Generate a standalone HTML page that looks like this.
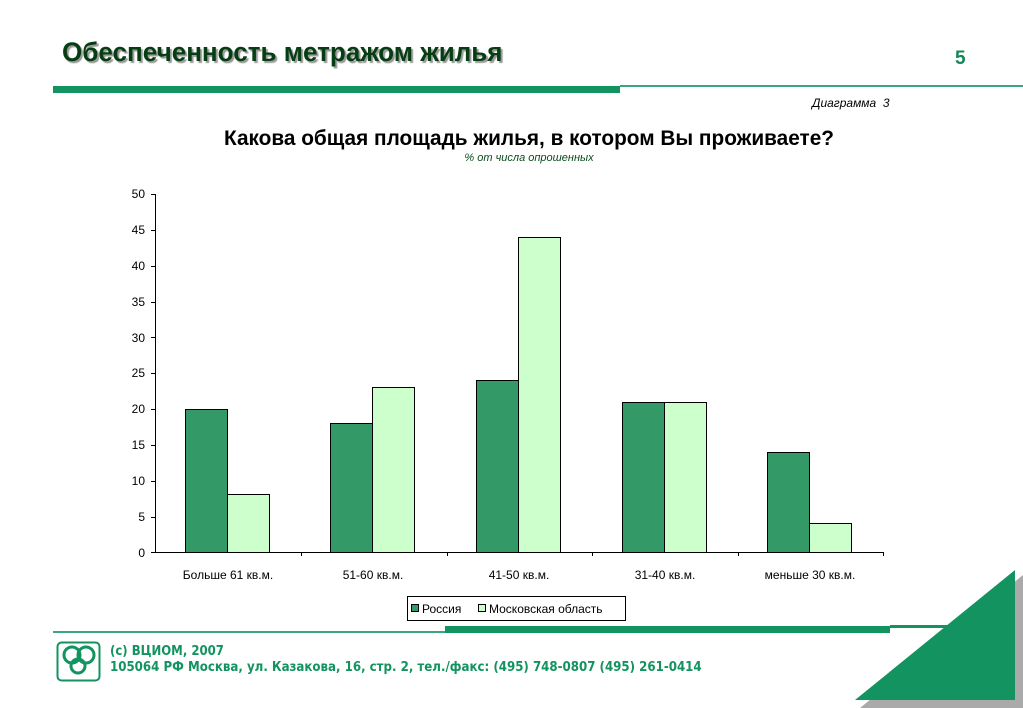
<!DOCTYPE html>
<html><head><meta charset="utf-8"><style>
body{margin:0;width:1023px;height:708px;background:#fff;overflow:hidden;position:relative;font-family:"Liberation Sans",sans-serif}
.a{position:absolute;white-space:nowrap}
</style></head><body>
<div class="a" style="left:62px;top:37px;font-size:27px;font-weight:bold;color:#063d12;text-shadow:2px 2px 1px #999;transform:scaleX(0.965);transform-origin:left">Обеспеченность метражом жилья</div>
<div class="a" style="left:955px;top:48px;font-size:19px;font-weight:bold;color:#12875a">5</div>
<div class="a" style="left:53px;top:86px;width:567px;height:7px;background:#12935f"></div>
<div class="a" style="left:620px;top:85px;width:403px;height:2px;background:#3aa67c"></div>
<div class="a" style="left:812px;top:96px;font-size:12px;font-style:italic">Диаграмма &nbsp;3</div>
<div class="a" style="left:0;width:1058px;text-align:center;top:127px;font-size:20.8px;font-weight:bold">Какова общая площадь жилья, в котором Вы проживаете?</div>
<div class="a" style="left:0;width:1058px;text-align:center;top:152px;font-size:11px;font-style:italic;color:#0b4a1a">% от числа опрошенных</div>
<svg class="a" style="left:0;top:0" width="1023" height="708">
<g font-family="Liberation Sans" font-size="12" text-anchor="end">
<text x="145" y="198">50</text><text x="145" y="234">45</text><text x="145" y="270">40</text><text x="145" y="306">35</text><text x="145" y="342">30</text><text x="145" y="377">25</text><text x="145" y="413">20</text><text x="145" y="449">15</text><text x="145" y="485">10</text><text x="145" y="521">5</text><text x="145" y="557">0</text>
</g>
<g stroke="#000" stroke-width="1">
<line x1="155.5" y1="194" x2="155.5" y2="552"/><line x1="155" y1="552.5" x2="884" y2="552.5"/>
<path d="M151 194.5h4M151 230.5h4M151 266.5h4M151 302.5h4M151 337.5h4M151 373.5h4M151 409.5h4M151 445.5h4M151 481.5h4M151 517.5h4M151 552.5h4"/>
<path d="M301.5 552v4M447.5 552v4M592.5 552v4M738.5 552v4M883.5 552v4"/>
</g>
<g stroke="#000" stroke-width="1">
<rect x="185.5" y="409.5" width="42" height="143" fill="#339966"/>
<rect x="227.5" y="494.5" width="42" height="58" fill="#ccffcc"/>
<rect x="330.5" y="423.5" width="42" height="129" fill="#339966"/>
<rect x="372.5" y="387.5" width="42" height="165" fill="#ccffcc"/>
<rect x="476.5" y="380.5" width="42" height="172" fill="#339966"/>
<rect x="518.5" y="237.5" width="42" height="315" fill="#ccffcc"/>
<rect x="622.5" y="402.5" width="42" height="150" fill="#339966"/>
<rect x="664.5" y="402.5" width="42" height="150" fill="#ccffcc"/>
<rect x="767.5" y="452.5" width="42" height="100" fill="#339966"/>
<rect x="809.5" y="523.5" width="42" height="29" fill="#ccffcc"/>
</g>
<g font-family="Liberation Sans" font-size="12" text-anchor="middle">
<text x="228" y="579">Больше 61 кв.м.</text><text x="373" y="579">51-60 кв.м.</text><text x="519" y="579">41-50 кв.м.</text><text x="665" y="579">31-40 кв.м.</text><text x="810" y="579">меньше 30 кв.м.</text>
</g>
<rect x="407.5" y="596.5" width="218" height="24" fill="#fff" stroke="#000"/>
<rect x="411.5" y="604.5" width="7" height="7" fill="#339966" stroke="#000"/>
<rect x="478.5" y="604.5" width="7" height="7" fill="#ccffcc" stroke="#000"/>
<text x="422" y="613" font-family="Liberation Sans" font-size="12">Россия</text>
<text x="489" y="613" font-family="Liberation Sans" font-size="12">Московская область</text>
<polygon points="1023,575 1023,708 860,708" fill="#aaa"/>
<polygon points="1015,570 1015,700 855,700" fill="#12935f"/>
<rect x="53" y="631" width="392" height="2" fill="#3aa67c"/>
<rect x="445" y="626" width="445" height="7" fill="#12935f"/>
<rect x="890" y="625" width="60" height="3" fill="#12935f"/>
<rect x="57.5" y="642.5" width="42" height="38" rx="4" fill="#fff" stroke="#12935f" stroke-width="2"/>
<circle cx="72" cy="655" r="8" fill="none" stroke="#12935f" stroke-width="3"/>
<circle cx="86" cy="655" r="8" fill="none" stroke="#12935f" stroke-width="3"/>
<circle cx="78" cy="666" r="7" fill="none" stroke="#12935f" stroke-width="3"/>
</svg>
<div class="a" style="left:110px;top:644px;font-size:13px;font-weight:bold;color:#12935f;font-family:'DejaVu Sans Condensed','DejaVu Sans',sans-serif">(c) ВЦИОМ, 2007</div>
<div class="a" style="left:110px;top:660px;font-size:13.15px;font-weight:bold;color:#12935f;font-family:'DejaVu Sans Condensed','DejaVu Sans',sans-serif">105064 РФ Москва, ул. Казакова, 16, стр. 2, тел./факс: (495) 748-0807 (495) 261-0414</div>
</body></html>
